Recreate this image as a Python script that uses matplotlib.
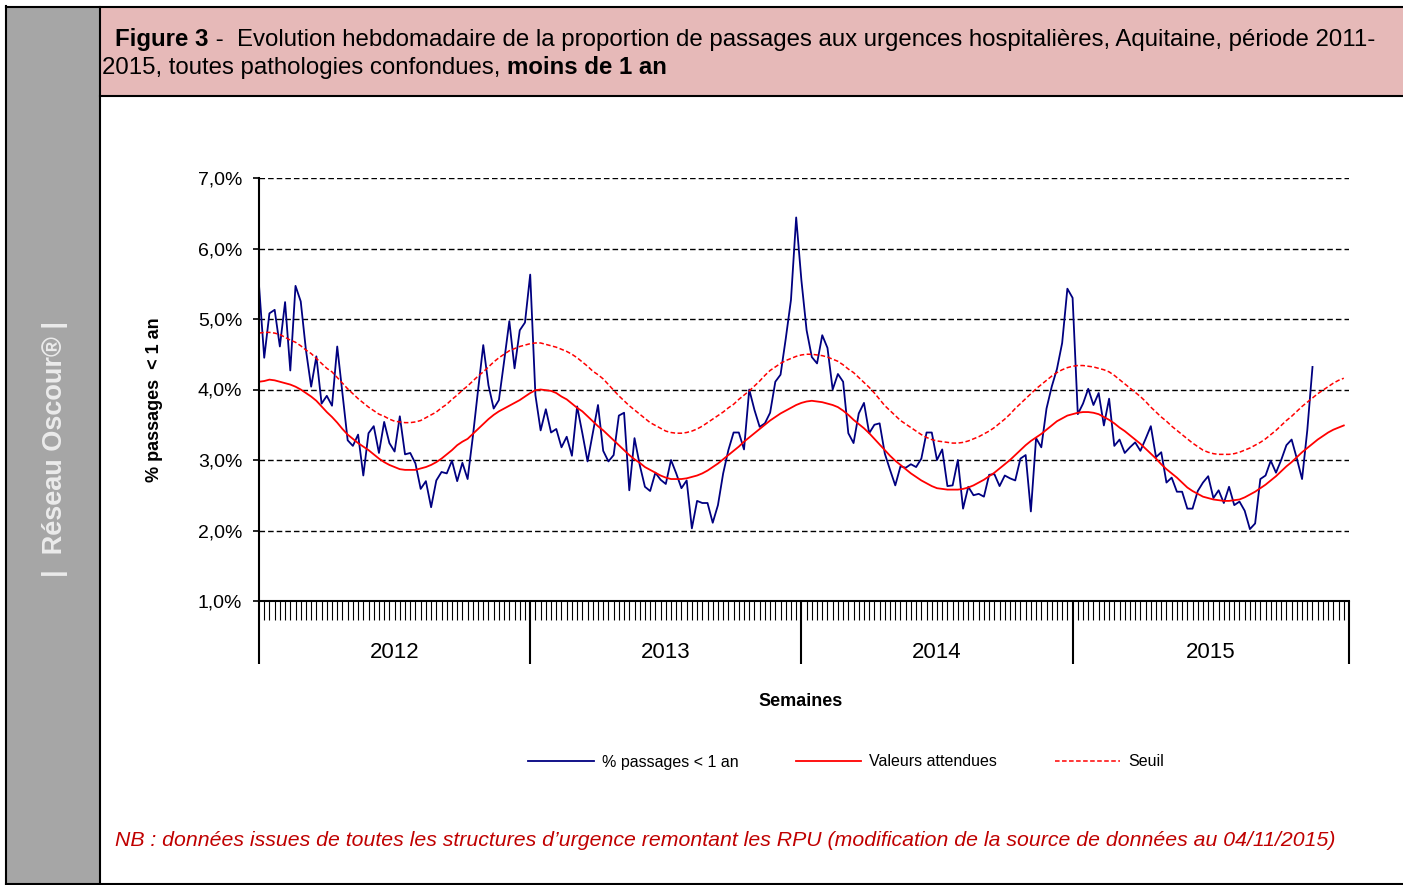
import matplotlib.pyplot as plt
from matplotlib.patches import Rectangle
from matplotlib.lines import Line2D
from matplotlib.ticker import FuncFormatter
import matplotlib.transforms as mtransforms

plt.rcParams['font.family'] = ['Liberation Sans', 'DejaVu Sans']

# semaines (index 0 = S01 2012)
annees = ['2012', '2013', '2014', '2015']
debut_annees = [0, 52, 104, 156, 209]

# % passages < 1 an (observé)
passages_2012 = [5.48, 4.45, 5.08, 5.13, 4.61, 5.24, 4.27, 5.47, 5.25, 4.56,
                 4.04, 4.47, 3.80, 3.91, 3.77, 4.61, 3.95, 3.28, 3.20, 3.36,
                 2.78, 3.38, 3.48, 3.10, 3.54, 3.24, 3.12, 3.62, 3.08, 3.10,
                 2.95, 2.59, 2.70, 2.33, 2.71, 2.83, 2.81, 2.99, 2.70, 2.96,
                 2.73, 3.33, 3.99, 4.63, 4.06, 3.73, 3.85, 4.40, 4.97, 4.30,
                 4.84, 4.95]
passages_2013 = [5.63, 3.92, 3.42, 3.72, 3.39, 3.44, 3.18, 3.33, 3.06, 3.76,
                 3.38, 2.98, 3.38, 3.78, 3.13, 2.98, 3.07, 3.63, 3.67, 2.57,
                 3.31, 2.93, 2.62, 2.56, 2.82, 2.72, 2.66, 3.00, 2.81, 2.60,
                 2.71, 2.03, 2.42, 2.39, 2.39, 2.11, 2.36, 2.81, 3.14, 3.39,
                 3.39, 3.15, 4.00, 3.71, 3.47, 3.52, 3.67, 4.11, 4.21, 4.72,
                 5.27, 6.44]
passages_2014 = [5.55, 4.84, 4.46, 4.37, 4.77, 4.59, 4.00, 4.22, 4.11, 3.38,
                 3.24, 3.66, 3.81, 3.38, 3.50, 3.52, 3.09, 2.86, 2.64, 2.91,
                 2.89, 2.94, 2.90, 3.02, 3.39, 3.39, 3.00, 3.15, 2.63, 2.64,
                 3.00, 2.31, 2.62, 2.50, 2.52, 2.48, 2.79, 2.80, 2.63, 2.78,
                 2.74, 2.71, 3.02, 3.07, 2.27, 3.31, 3.18, 3.73, 4.04, 4.29,
                 4.66, 5.43]
passages_2015 = [5.30, 3.65, 3.80, 4.01, 3.78, 3.95, 3.49, 3.87, 3.20, 3.29,
                 3.10, 3.18, 3.25, 3.13, 3.30, 3.48, 3.04, 3.11, 2.68, 2.75,
                 2.55, 2.55, 2.31, 2.31, 2.56, 2.68, 2.77, 2.46, 2.57, 2.39,
                 2.62, 2.36, 2.41, 2.28, 2.02, 2.10, 2.73, 2.78, 2.99, 2.82,
                 3.00, 3.21, 3.29, 3.02, 2.73, 3.42, 4.32]

# valeurs attendues
attendu_2012 = [4.11, 4.12, 4.14, 4.13, 4.11, 4.09, 4.07, 4.04, 4.00, 3.95,
                3.90, 3.84, 3.76, 3.68, 3.61, 3.53, 3.44, 3.36, 3.30, 3.24,
                3.19, 3.14, 3.08, 3.02, 2.97, 2.93, 2.90, 2.87, 2.86, 2.86,
                2.86, 2.88, 2.90, 2.93, 2.97, 3.02, 3.08, 3.14, 3.21, 3.26,
                3.30, 3.37, 3.44, 3.51, 3.58, 3.64, 3.69, 3.73, 3.77, 3.81,
                3.85, 3.90]
attendu_2013 = [3.95, 3.99, 4.00, 3.99, 3.98, 3.95, 3.90, 3.86, 3.80, 3.74,
                3.69, 3.62, 3.55, 3.48, 3.42, 3.35, 3.28, 3.21, 3.14, 3.07,
                3.01, 2.96, 2.90, 2.86, 2.82, 2.78, 2.75, 2.73, 2.73, 2.73,
                2.74, 2.76, 2.78, 2.81, 2.85, 2.90, 2.95, 3.01, 3.07, 3.13,
                3.19, 3.26, 3.32, 3.38, 3.44, 3.50, 3.56, 3.61, 3.66, 3.70,
                3.74, 3.78]
attendu_2014 = [3.81, 3.83, 3.84, 3.83, 3.82, 3.80, 3.78, 3.75, 3.70, 3.64,
                3.57, 3.51, 3.45, 3.38, 3.30, 3.22, 3.14, 3.06, 2.99, 2.93,
                2.87, 2.81, 2.76, 2.71, 2.67, 2.63, 2.60, 2.59, 2.58, 2.58,
                2.58, 2.59, 2.61, 2.64, 2.68, 2.72, 2.77, 2.82, 2.88, 2.94,
                3.00, 3.07, 3.14, 3.21, 3.27, 3.32, 3.37, 3.43, 3.49, 3.55,
                3.59, 3.63]
attendu_2015 = [3.65, 3.67, 3.68, 3.68, 3.67, 3.65, 3.61, 3.57, 3.52, 3.46,
                3.41, 3.35, 3.29, 3.23, 3.16, 3.09, 3.02, 2.94, 2.87, 2.81,
                2.75, 2.68, 2.61, 2.56, 2.52, 2.48, 2.46, 2.44, 2.43, 2.42,
                2.42, 2.43, 2.44, 2.47, 2.51, 2.55, 2.60, 2.65, 2.71, 2.77,
                2.84, 2.91, 2.97, 3.04, 3.11, 3.17, 3.23, 3.29, 3.34, 3.39,
                3.43, 3.46, 3.49]

# seuil
seuil_2012 = [4.80, 4.81, 4.81, 4.80, 4.78, 4.74, 4.70, 4.67, 4.62, 4.56,
              4.51, 4.44, 4.37, 4.30, 4.25, 4.17, 4.09, 4.01, 3.94, 3.87,
              3.81, 3.75, 3.70, 3.65, 3.62, 3.58, 3.55, 3.54, 3.53, 3.53,
              3.54, 3.56, 3.60, 3.64, 3.68, 3.74, 3.79, 3.86, 3.92, 3.99,
              4.05, 4.12, 4.19, 4.25, 4.32, 4.39, 4.45, 4.50, 4.55, 4.58,
              4.61, 4.63]
seuil_2013 = [4.65, 4.66, 4.66, 4.64, 4.62, 4.60, 4.57, 4.54, 4.50, 4.45,
              4.39, 4.33, 4.26, 4.21, 4.15, 4.07, 3.99, 3.91, 3.84, 3.77,
              3.71, 3.65, 3.59, 3.53, 3.49, 3.45, 3.41, 3.39, 3.38, 3.38,
              3.39, 3.41, 3.44, 3.48, 3.53, 3.58, 3.63, 3.68, 3.74, 3.79,
              3.86, 3.92, 3.98, 4.05, 4.12, 4.20, 4.27, 4.32, 4.37, 4.41,
              4.44, 4.47]
seuil_2014 = [4.49, 4.50, 4.50, 4.49, 4.48, 4.46, 4.43, 4.40, 4.35, 4.29,
              4.24, 4.17, 4.10, 4.03, 3.95, 3.86, 3.77, 3.70, 3.63, 3.56,
              3.51, 3.46, 3.41, 3.36, 3.32, 3.29, 3.27, 3.26, 3.25, 3.24,
              3.24, 3.25, 3.27, 3.30, 3.33, 3.37, 3.41, 3.46, 3.52, 3.58,
              3.65, 3.73, 3.80, 3.87, 3.94, 4.01, 4.07, 4.13, 4.19, 4.24,
              4.28, 4.31]
seuil_2015 = [4.33, 4.34, 4.34, 4.33, 4.32, 4.30, 4.28, 4.25, 4.20, 4.14,
              4.08, 4.02, 3.96, 3.90, 3.83, 3.75, 3.68, 3.61, 3.55, 3.48,
              3.42, 3.36, 3.30, 3.24, 3.19, 3.14, 3.11, 3.09, 3.08, 3.08,
              3.08, 3.09, 3.11, 3.14, 3.17, 3.21, 3.25, 3.30, 3.36, 3.42,
              3.49, 3.56, 3.62, 3.69, 3.76, 3.82, 3.88, 3.94, 3.99, 4.04,
              4.09, 4.13, 4.16]

passages = passages_2012 + passages_2013 + passages_2014 + passages_2015
attendu = attendu_2012 + attendu_2013 + attendu_2014 + attendu_2015
seuil = seuil_2012 + seuil_2013 + seuil_2014 + seuil_2015

W, H = 1403, 885
fig = plt.figure(figsize=(W / 100, H / 100), dpi=100)
renderer = fig.canvas.get_renderer()


def fx(px):
    return px / W


def fy(py):
    return 1 - py / H


# cadre, bande grise et bandeau du titre
fig.add_artist(Rectangle((fx(7), fy(884)), fx(100) - fx(7), (884 - 7) / H,
                         transform=fig.transFigure, facecolor='#a6a6a6', edgecolor='none'))
fig.add_artist(Rectangle((fx(100), fy(96)), 1 - fx(100), (96 - 7) / H,
                         transform=fig.transFigure, facecolor='#e6b9b8', edgecolor='none'))
for xs, ys in [([6, 6], [6, 884]), ([6, 1403], [7, 7]), ([6, 1403], [884, 884]),
               ([100, 100], [7, 884]), ([100, 1403], [96, 96])]:
    fig.add_artist(Line2D([fx(v) for v in xs], [fy(v) for v in ys],
                          transform=fig.transFigure, color='black', lw=1.5))

fig.text(fx(55), fy(449), '|  Réseau Oscour® |', rotation=90, color='#ebebeb',
         fontsize=19.5, fontweight='bold', ha='center', va='center')

# graphique
ax = fig.add_axes([fx(259), fy(601), fx(1349) - fx(259), (601 - 178) / H])
ax.plot(range(len(passages)), passages, color='#000080', lw=1.3, label='% passages < 1 an')
ax.plot(range(len(attendu)), attendu, color='#ff0000', lw=1.3, label='Valeurs attendues')
ax.plot(range(len(seuil)), seuil, color='#ff0000', lw=1.1, linestyle=(0, (3, 1.6)), label='Seuil')

ax.set_xlim(0, 209)
ax.set_ylim(1, 7)
ax.set_yticks(range(1, 8))
ax.yaxis.set_major_formatter(FuncFormatter(lambda v, p: f'{v:.1f}%'.replace('.', ',')))
ax.grid(axis='y', color='black', linestyle=(0, (4, 2.2)), lw=1.0)
ax.set_axisbelow(True)
for s in ['top', 'right']:
    ax.spines[s].set_visible(False)
for s in ['left', 'bottom']:
    ax.spines[s].set_linewidth(1.5)

ax.set_xticks(debut_annees)
ax.set_xticklabels([])
ax.set_xticks(range(0, 210), minor=True)
ax.tick_params(axis='x', which='major', length=45, width=1.5, direction='out')
ax.tick_params(axis='x', which='minor', length=14, width=0.8, direction='out')
ax.tick_params(axis='y', length=4, width=1.2, labelsize=14, pad=8)

trans = mtransforms.blended_transform_factory(ax.transData, ax.transAxes)
for i, an in enumerate(annees):
    c = (debut_annees[i] + debut_annees[i + 1]) / 2
    ax.text(c, -0.1215, an, transform=trans, ha='center', va='center', fontsize=16)

ax.set_ylabel('% passages  < 1 an', fontsize=13, fontweight='bold')
ax.yaxis.set_label_coords(-0.088, 0.475)

fig.text(fx(801), fy(701), 'Semaines', ha='center', va='center', fontsize=13, fontweight='bold')

fig.legend(*ax.get_legend_handles_labels(), loc='center', bbox_to_anchor=(fx(846), fy(762)),
           ncol=3, frameon=False, fontsize=11.5, handlelength=4.1, columnspacing=3.6,
           handletextpad=0.5)

fig.text(fx(115), fy(840),
         "NB : données issues de toutes les structures d’urgence remontant les RPU "
         "(modification de la source de données au 04/11/2015)",
         color='#c00000', style='italic', fontsize=15.3, va='center')


# titre (morceaux gras / normal mis bout à bout)
def ligne_titre(morceaux, x_px, y_px, taille=17.3):
    for texte, gras in morceaux:
        t = fig.text(fx(x_px), fy(y_px), texte, fontsize=taille,
                     fontweight='bold' if gras else 'normal', va='baseline')
        x_px += t.get_window_extent(renderer).width


ligne_titre([('Figure 3', True),
             (' -  Evolution hebdomadaire de la proportion de passages aux urgences '
              'hospitalières, Aquitaine, période 2011-', False)], 115, 46)
ligne_titre([('2015, toutes pathologies confondues, ', False),
             ('moins de 1 an', True)], 102, 74)

fig.savefig('out.png', dpi=100)
